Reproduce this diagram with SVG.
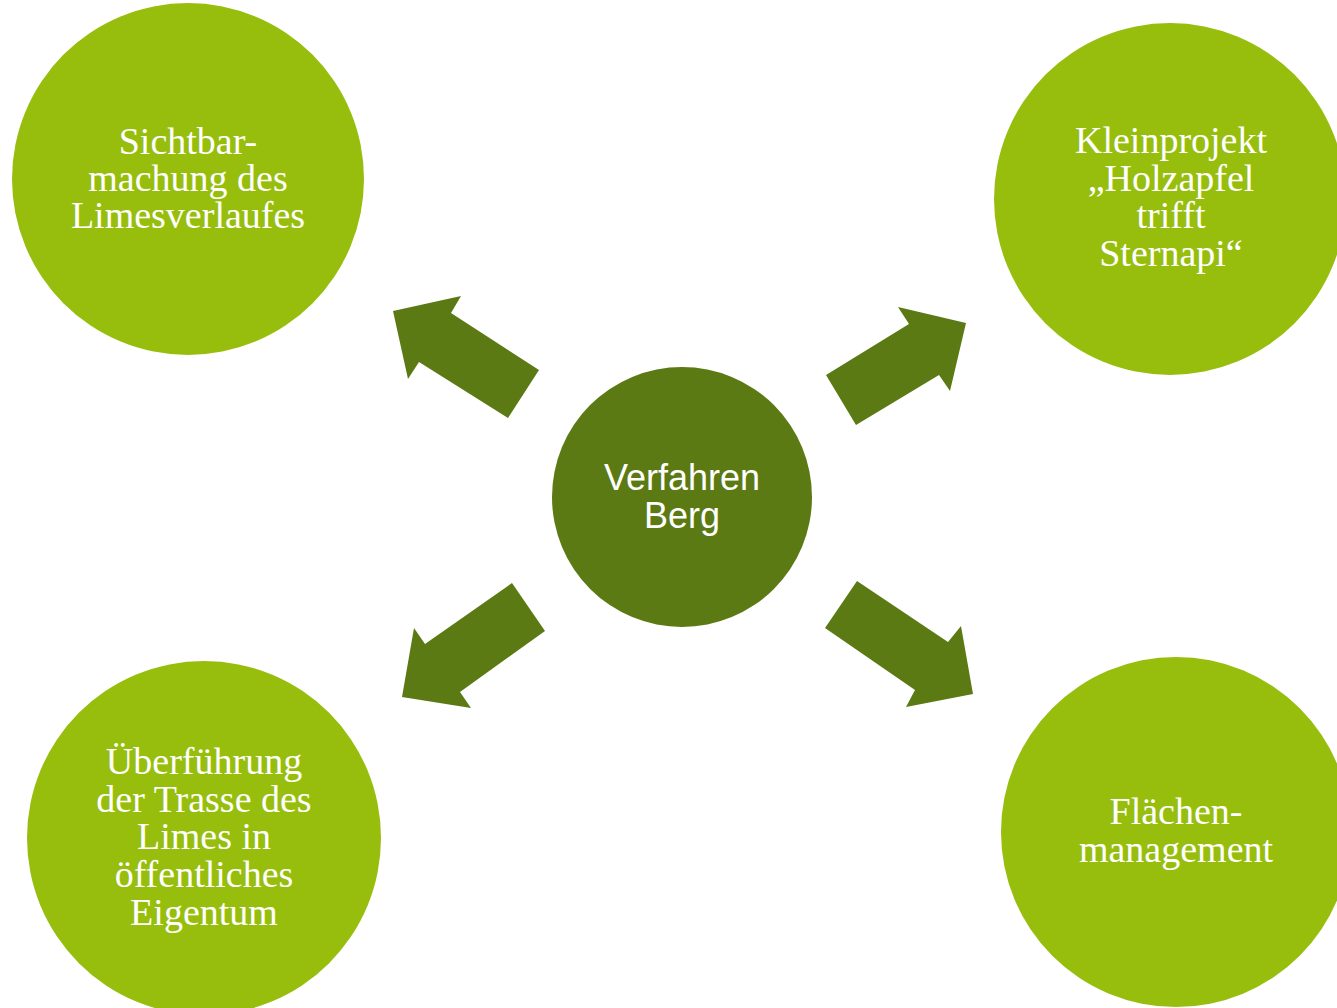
<svg xmlns="http://www.w3.org/2000/svg" width="1337" height="1008" viewBox="0 0 1337 1008">
<style>
.outer{fill:#97BE0D}
.inner{fill:#5B7A13}
.arrow{fill:#5B7A13}
.st{font-family:"Liberation Serif","Times New Roman",serif;font-size:38px;fill:#fff;text-anchor:middle}
.ct{font-family:"Liberation Sans",Arial,sans-serif;font-size:36px;fill:#fff;text-anchor:middle}
</style>
<rect width="1337" height="1008" fill="#fff"/>
<g id="connectors">
<polygon class="arrow" points="393,311 461,296 451,313 539,370 508,418 419,362 408,379"/>
<polygon class="arrow" points="966,323 898,307 909,324 826,375 856,425 939,375 950,391"/>
<polygon class="arrow" points="402,697 471,708 460,692 545,631 512,583 425,644 414,628"/>
<polygon class="arrow" points="973,694 906,707 915,690 825,628 857,581 948,642 961,626"/>
</g>
<g id="center">
<circle class="inner" cx="682" cy="497" r="130"/>
<text class="ct" x="682" y="490">Verfahren</text>
<text class="ct" x="682" y="528">Berg</text>
</g>
<g id="node-tl">
<circle class="outer" cx="188" cy="179" r="176"/>
<text class="st" x="188" y="154">Sichtbar-</text>
<text class="st" x="188" y="191">machung des</text>
<text class="st" x="188" y="228">Limesverlaufes</text>
</g>
<g id="node-tr">
<circle class="outer" cx="1170" cy="199" r="176"/>
<text class="st" x="1171" y="153">Kleinprojekt</text>
<text class="st" x="1171" y="191">„Holzapfel</text>
<text class="st" x="1171" y="228">trifft</text>
<text class="st" x="1171" y="266">Sternapi“</text>
</g>
<g id="node-bl">
<circle class="outer" cx="204" cy="838" r="177"/>
<text class="st" x="204" y="774">Überführung</text>
<text class="st" x="204" y="812">der Trasse des</text>
<text class="st" x="204" y="849">Limes in</text>
<text class="st" x="204" y="887">öffentliches</text>
<text class="st" x="204" y="925">Eigentum</text>
</g>
<g id="node-br">
<circle class="outer" cx="1176" cy="832" r="175"/>
<text class="st" x="1176" y="824">Flächen-</text>
<text class="st" x="1176" y="862">management</text>
</g>
</svg>
